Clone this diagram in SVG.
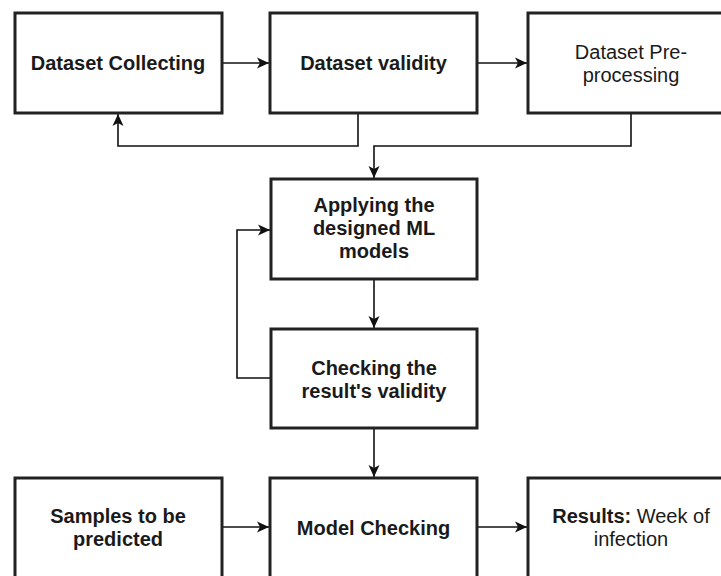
<svg xmlns="http://www.w3.org/2000/svg" width="721" height="576" viewBox="0 0 721 576">
  <defs>
    <marker id="arrow" markerUnits="userSpaceOnUse" markerWidth="14" markerHeight="12" refX="12" refY="6" orient="auto">
      <path d="M0,0.5 L12,6 L0,11.5 L3,6 Z" fill="#111"/>
    </marker>
    <style>
      .box { fill: #fff; stroke: #222; stroke-width: 3; }
      .lbl { font-family: "Liberation Sans", Arial, sans-serif; font-size: 20px; fill: #1a1a1a; text-anchor: middle; }
      .b { font-weight: bold; }
      .edge { fill: none; stroke: #111; stroke-width: 1.6; }
    </style>
  </defs>
  <rect width="721" height="576" fill="#fff"/>

  <g id="connectors">
    <path class="edge" d="M222,63 H269" marker-end="url(#arrow)"/>
    <path class="edge" d="M477,63 H527" marker-end="url(#arrow)"/>
    <path class="edge" d="M358,113 V146 H118 V114" marker-end="url(#arrow)"/>
    <path class="edge" d="M631,113 V146 H374 V178" marker-end="url(#arrow)"/>
    <path class="edge" d="M374,279 V328" marker-end="url(#arrow)"/>
    <path class="edge" d="M271,378 H237 V230 H270" marker-end="url(#arrow)"/>
    <path class="edge" d="M374,428 V477" marker-end="url(#arrow)"/>
    <path class="edge" d="M222,527 H269" marker-end="url(#arrow)"/>
    <path class="edge" d="M477,527 H527" marker-end="url(#arrow)"/>
  </g>

  <g id="dataset-collecting">
    <rect class="box" x="15" y="13" width="207" height="100"/>
    <text class="lbl b" x="118" y="70">Dataset Collecting</text>
  </g>
  <g id="dataset-validity">
    <rect class="box" x="270" y="13" width="207" height="100"/>
    <text class="lbl b" x="373.5" y="70">Dataset validity</text>
  </g>
  <g id="dataset-preprocessing">
    <rect class="box" x="528" y="13" width="207" height="100"/>
    <text class="lbl" x="631" y="59">Dataset Pre-</text>
    <text class="lbl" x="631" y="82">processing</text>
  </g>
  <g id="apply-models">
    <rect class="box" x="271" y="179" width="206" height="100"/>
    <text class="lbl b" x="374" y="212">Applying the</text>
    <text class="lbl b" x="374" y="235">designed ML</text>
    <text class="lbl b" x="374" y="258">models</text>
  </g>
  <g id="check-validity">
    <rect class="box" x="271" y="329" width="206" height="99"/>
    <text class="lbl b" x="374" y="375">Checking the</text>
    <text class="lbl b" x="374" y="398">result's validity</text>
  </g>
  <g id="samples">
    <rect class="box" x="15" y="478" width="207" height="100"/>
    <text class="lbl b" x="118" y="523">Samples to be</text>
    <text class="lbl b" x="118" y="546">predicted</text>
  </g>
  <g id="model-checking">
    <rect class="box" x="270" y="478" width="207" height="100"/>
    <text class="lbl b" x="373.5" y="535">Model Checking</text>
  </g>
  <g id="results">
    <rect class="box" x="528" y="478" width="207" height="100"/>
    <text class="lbl" x="631" y="523"><tspan class="b">Results:</tspan> Week of</text>
    <text class="lbl" x="631" y="546">infection</text>
  </g>
</svg>
